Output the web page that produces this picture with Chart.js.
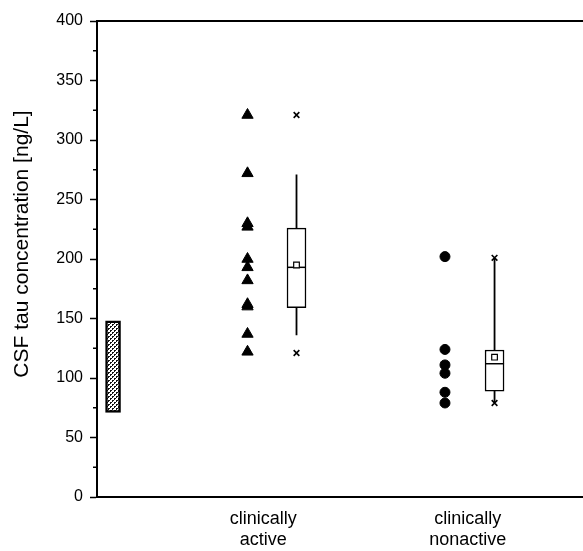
<!DOCTYPE html>
<html><head><meta charset="utf-8">
<script src="https://cdn.jsdelivr.net/npm/chart.js@4/dist/chart.umd.min.js"></script>
<style>html,body{margin:0;padding:0;background:#fff;overflow:hidden}canvas{display:block}</style>
</head><body>
<canvas id="c" width="583" height="551"></canvas>
<script>
// ---- data ----
const categories = [['clinically', 'active'], ['clinically', 'nonactive']];
const activeValues = [321, 272, 230, 227, 200, 193, 182, 162, 160, 137, 122];
const nonactiveValues = [202, 124, 111, 104, 88, 79];
const boxQ1 = [159, 89];
const boxMedian = [193, 112];
const boxQ3 = [226, 123.5];
const boxMean = [195, 117.5];
const whiskerLow = [136, 79];
const whiskerHigh = [271, 201];
const extremeMin = [121, 79];
const extremeMax = [321, 201];
const referenceRange = [71, 148];
const yTicks = [0, 50, 100, 150, 200, 250, 300, 350, 400];
const yTitle = 'CSF tau concentration [ng/L]';

// ---- layout (positions on the x axis, not data) ----
const pointPos = [3.097, 7.16];
const boxPos = [4.105, 8.18];
const labelPos = [3.42, 7.63];
const refPos = 0.33;
const FONT = '"Liberation Sans", Arial, sans-serif';

// stipple pattern for the reference range
const pc = document.createElement('canvas');
pc.width = 4; pc.height = 4;
const px = pc.getContext('2d');
px.fillStyle = '#fff'; px.fillRect(0, 0, 4, 4);
px.fillStyle = '#111';
px.fillRect(0, 0, 2, 1); px.fillRect(0, 1, 1, 1);
px.fillRect(2, 2, 2, 1); px.fillRect(2, 3, 1, 1);
const pattern = pc.getContext('2d').createPattern(pc, 'repeat');

const noPad = s => { s.paddingLeft = 0; s.paddingRight = 0; s.paddingTop = 0; s.paddingBottom = 0; };

const datasets = [];
datasets.push({
  type: 'scatter', order: 1,
  data: activeValues.map(v => ({x: pointPos[0], y: v})),
  pointStyle: 'triangle', radius: 6.5, backgroundColor: '#000', borderColor: '#000', borderWidth: 1
});
datasets.push({
  type: 'scatter', order: 1,
  data: nonactiveValues.map(v => ({x: pointPos[1], y: v})),
  pointStyle: 'circle', radius: 5, backgroundColor: '#000', borderColor: '#000', borderWidth: 1
});
datasets.push({
  type: 'scatter', order: 1,
  data: boxMean.map((v, i) => ({x: boxPos[i], y: v})),
  pointStyle: 'rect', radius: 4, backgroundColor: '#fff', borderColor: '#000', borderWidth: 1.2
});
datasets.push({
  type: 'scatter', order: 2,
  data: boxMedian.map((v, i) => ({x: boxPos[i], y: v})),
  pointStyle: 'line', radius: 9.5, borderColor: '#000', borderWidth: 1.5
});
datasets.push({
  type: 'scatter', order: 2,
  data: extremeMin.map((v, i) => ({x: boxPos[i], y: v})).concat(extremeMax.map((v, i) => ({x: boxPos[i], y: v}))),
  pointStyle: 'crossRot', radius: 4, borderColor: '#000', borderWidth: 1.6
});
for (let i = 0; i < 2; i++) {
  datasets.push({
    type: 'line', order: 4, showLine: true, spanGaps: false,
    data: [{x: boxPos[i], y: boxQ3[i]}, {x: boxPos[i], y: whiskerHigh[i]}, {x: boxPos[i], y: null},
           {x: boxPos[i], y: boxQ1[i]}, {x: boxPos[i], y: whiskerLow[i]}],
    borderColor: '#000', borderWidth: 1.8, pointRadius: 0, fill: false
  });
}
datasets.push({
  type: 'bar', order: 3, grouped: false,
  data: boxQ1.map((v, i) => ({x: boxPos[i], y: [v, boxQ3[i]]})),
  backgroundColor: '#fff', borderColor: '#000', borderWidth: 1.5, borderSkipped: false, barThickness: 19
});
datasets.push({
  type: 'bar', order: 3, grouped: false,
  data: [{x: refPos, y: referenceRange}],
  backgroundColor: pattern, borderColor: '#000', borderWidth: 2.5, borderSkipped: false, barThickness: 15
});

const extras = {
  id: 'extras',
  afterDraw(chart) {
    const ctx = chart.ctx;
    const y = chart.scales.y;
    ctx.save();
    ctx.strokeStyle = '#000';
    ctx.lineWidth = 1.5;
    for (let i = 0; i < yTicks.length - 1; i++) {
      const p = y.getPixelForValue((yTicks[i] + yTicks[i + 1]) / 2);
      ctx.beginPath(); ctx.moveTo(y.right - 4, p); ctx.lineTo(y.right, p); ctx.stroke();
    }
    ctx.translate(22, 244);
    ctx.rotate(-Math.PI / 2);
    ctx.fillStyle = '#000';
    ctx.font = '21px ' + FONT;
    ctx.textAlign = 'center';
    ctx.textBaseline = 'middle';
    ctx.fillText(yTitle, 0, 0);
    ctx.restore();
  }
};

new Chart(document.getElementById('c'), {
  type: 'scatter',
  data: {datasets},
  plugins: [extras],
  options: {
    responsive: false, animation: false, devicePixelRatio: 1,
    layout: {padding: 0, autoPadding: false},
    plugins: {legend: {display: false}, tooltip: {enabled: false}},
    scales: {
      x: {
        type: 'linear', position: 'bottom', min: 0, max: 10, offset: false,
        afterFit(s) { s.height = 54; noPad(s); },
        afterBuildTicks(s) { s.ticks = labelPos.map(v => ({value: v})); },
        grid: {display: false, drawTicks: false},
        border: {display: true, color: '#000', width: 2},
        ticks: {
          padding: 12, color: '#000', maxRotation: 0, autoSkip: false,
          font: {family: FONT, size: 18, lineHeight: 1.15},
          callback: (v, i) => categories[i]
        }
      },
      x2: {
        type: 'linear', position: 'top', min: 0, max: 10,
        afterFit(s) { s.height = 21; noPad(s); },
        grid: {display: false, drawTicks: false},
        border: {display: true, color: '#000', width: 2},
        ticks: {display: false}
      },
      y: {
        type: 'linear', position: 'left', min: 0, max: 400,
        afterFit(s) { s.width = 97; noPad(s); },
        afterBuildTicks(s) { s.ticks = yTicks.map(v => ({value: v})); },
        grid: {drawOnChartArea: false, drawTicks: true, tickLength: 7, tickColor: '#000', tickWidth: 1.5},
        border: {display: true, color: '#000', width: 2},
        ticks: {padding: 7, color: '#000', font: {family: FONT, size: 16}}
      }
    }
  }
});
</script>
</body></html>
